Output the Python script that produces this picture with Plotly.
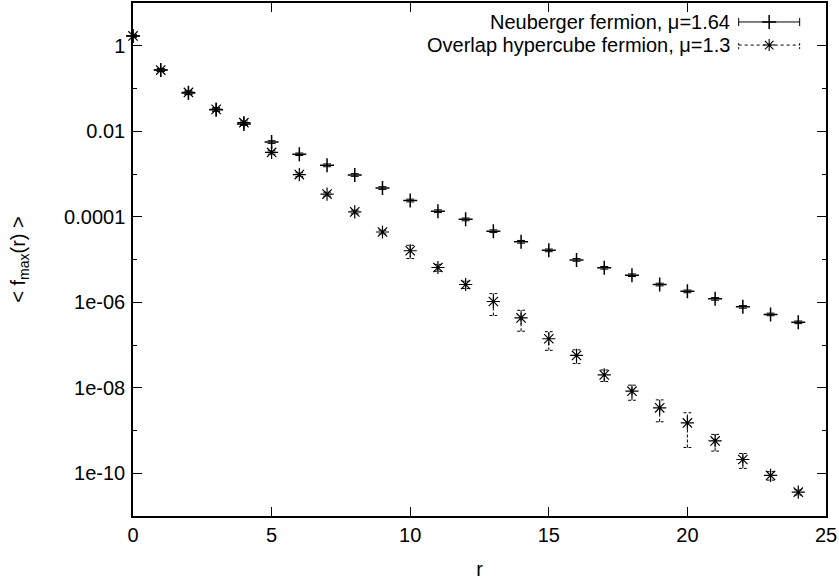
import plotly.graph_objects as go

# ---- data ----
r_values = list(range(25))
neuberger = [1.7, 0.27, 0.078, 0.032, 0.0148, 0.0056, 0.0029, 0.0016, 0.00095, 0.00047,
             0.00024, 0.000135, 8.7e-5, 4.6e-5, 2.6e-5, 1.64e-5, 9.8e-6, 6.4e-6, 4.3e-6,
             2.6e-6, 1.8e-6, 1.2e-6, 7.8e-7, 5.2e-7, 3.4e-7]
neuberger_err = [0.1, 0.02, 0.006, 0.0025, 0.0011, 0.0004, 0.0002, 0.00012, 7e-5, 3.5e-5,
                 1.8e-5, 1e-5, 6.5e-6, 3.4e-6, 1.9e-6, 1.2e-6, 7e-7, 4.6e-7, 3.1e-7,
                 1.9e-7, 1.3e-7, 8.5e-8, 5.5e-8, 3.7e-8, 2.4e-8]
overlap = [1.7, 0.27, 0.081, 0.0325, 0.0159, 0.0032, 0.00097, 0.00034, 0.00013, 4.4e-5,
           1.6e-5, 6.5e-6, 2.6e-6, 1.04e-6, 4.3e-7, 1.4e-7, 5.7e-8, 2.0e-8, 8.3e-9,
           3.4e-9, 1.5e-9, 5.7e-10, 2.1e-10, 8.9e-11, 3.6e-11]
overlap_err = [0.1, 0.02, 0.008, 0.003, 0.0015, 0.0003, 0.0001, 3.5e-5, 1.3e-5, 4.5e-6,
               5.5e-6, 1.2e-6, 5e-7, 5.5e-7, 2.2e-7, 6.5e-8, 2e-8, 6e-9, 3.2e-9,
               1.8e-9, 1.1e-9, 2.4e-10, 8e-11, 2e-11, 5e-12]

name_neub = "Neuberger fermion, \u03bc=1.64"
name_over = "Overlap hypercube fermion, \u03bc=1.3"

y_tickvals = [1, 1e-2, 1e-4, 1e-6, 1e-8, 1e-10]
y_ticktext = ["1", "0.01", "0.0001", "1e-06", "1e-08", "1e-10"]
y_minor = [10.0, 1e-1, 1e-3, 1e-5, 1e-7, 1e-9, 1e-11]
x_tickvals = [0, 5, 10, 15, 20, 25]

FONT = "Liberation Sans, Arial, Helvetica, sans-serif"

fig = go.Figure()

# Neuberger: solid error bars with + points
fig.add_trace(go.Scatter(
    x=r_values, y=neuberger, mode="markers", name=name_neub, showlegend=False,
    cliponaxis=False,
    marker=dict(symbol="cross-thin-open", size=10, color="black",
                line=dict(color="black", width=1.5)),
    error_y=dict(type="data", array=neuberger_err, visible=True, color="black",
                 thickness=1, width=4),
))

# Overlap: dashed error bars with * points
cap = 0.14
ex, ey = [], []
for r, v, e in zip(r_values, overlap, overlap_err):
    lo, hi = v - e, v + e
    ex += [r, r, None, r - cap, r + cap, None, r - cap, r + cap, None]
    ey += [lo, hi, None, lo, lo, None, hi, hi, None]
fig.add_trace(go.Scatter(
    x=ex, y=ey, mode="lines", showlegend=False, hoverinfo="skip", cliponaxis=False,
    line=dict(color="black", width=1, dash="3px,2px"),
))
fig.add_trace(go.Scatter(
    x=r_values, y=overlap, mode="markers", name=name_over, showlegend=False,
    cliponaxis=False,
    marker=dict(symbol="asterisk-open", size=11, color="black",
                line=dict(color="black", width=1.2)),
))

# ---- custom gnuplot-style legend (text left, sample right) ----
ly1, ly2 = 0.963, 0.918
lx0, lx1 = 0.874, 0.962
lxm = (lx0 + lx1) / 2
capy = 0.008
for ly, txt in [(ly1, name_neub), (ly2, name_over)]:
    fig.add_annotation(x=0.864, y=ly, xref="paper", yref="paper", text=txt,
                       showarrow=False, xanchor="right", yanchor="middle",
                       font=dict(family=FONT, size=20, color="black"))
# sample 1: solid
fig.add_shape(type="line", xref="paper", yref="paper", x0=lx0, x1=lx1, y0=ly1, y1=ly1,
              line=dict(color="black", width=1))
for xx in (lx0, lx1):
    fig.add_shape(type="line", xref="paper", yref="paper", x0=xx, x1=xx,
                  y0=ly1 - capy, y1=ly1 + capy, line=dict(color="black", width=1))
# sample 2: dashed
fig.add_shape(type="line", xref="paper", yref="paper", x0=lx0, x1=lx1, y0=ly2, y1=ly2,
              line=dict(color="black", width=1, dash="3px,3px"))
for xx in (lx0, lx1):
    fig.add_shape(type="line", xref="paper", yref="paper", x0=xx, x1=xx,
                  y0=ly2 - capy, y1=ly2 + capy, line=dict(color="black", width=1, dash="2px,2px"))
fig.add_trace(go.Scatter(
    x=[lxm], y=[ly1], xaxis="x2", yaxis="y2", mode="markers", showlegend=False, hoverinfo="skip",
    marker=dict(symbol="cross-thin-open", size=10, color="black",
                line=dict(color="black", width=1.5)),
))
fig.add_trace(go.Scatter(
    x=[lxm], y=[ly2], xaxis="x2", yaxis="y2", mode="markers", showlegend=False, hoverinfo="skip",
    marker=dict(symbol="asterisk-open", size=10, color="black",
                line=dict(color="black", width=1.1)),
))

fig.update_layout(
    width=839, height=582,
    margin=dict(l=133, r=13, t=1, b=66),
    paper_bgcolor="white", plot_bgcolor="white",
    font=dict(family=FONT, size=20, color="black"),
    showlegend=False,
    xaxis=dict(
        range=[0, 25], tickvals=x_tickvals, ticks="inside", ticklen=9, tickwidth=1.2,
        tickcolor="black", showline=True, linecolor="black", linewidth=1.5,
        mirror="ticks", showgrid=False, zeroline=False,
        title=dict(text="r", standoff=17, font=dict(size=20)),
        tickfont=dict(size=20),
    ),
    yaxis=dict(
        type="log", range=[-11, 1], tickvals=y_tickvals, ticktext=y_ticktext,
        ticks="inside", ticklen=9, tickwidth=1.2, tickcolor="black",
        showline=True, linecolor="black", linewidth=1.5, mirror="ticks",
        showgrid=False, zeroline=False, ticklabelstandoff=2,
        minor=dict(tickvals=y_minor, ticks="inside", ticklen=4.5, tickwidth=1.2,
                   tickcolor="black", showgrid=False),
        title=dict(text="&lt; f<sub>max</sub>(r) &gt;", standoff=33, font=dict(size=20)),
        tickfont=dict(size=20),
    ),
    xaxis2=dict(overlaying="x", range=[0, 1], visible=False, domain=[0, 1]),
    yaxis2=dict(overlaying="y", range=[0, 1], visible=False, anchor="x2"),
)

fig.write_html("out.html", config={"displayModeBar": False},
               post_script="document.body.style.margin='0';")
